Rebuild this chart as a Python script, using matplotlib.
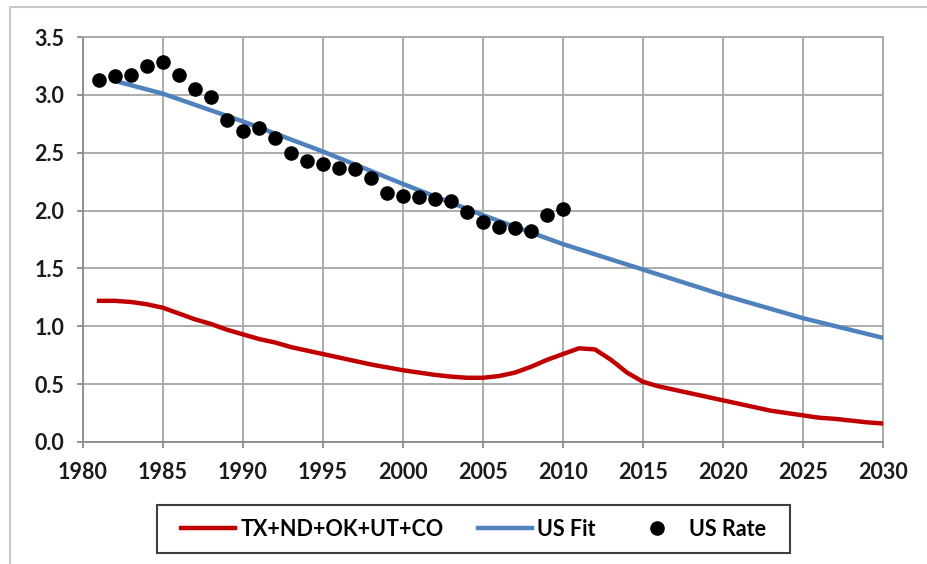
import matplotlib.pyplot as plt
from matplotlib.patches import Rectangle

plt.rcParams['font.family'] = ['Lato', 'DejaVu Sans']

# US rate (dots), 1981-2010
rate_years = list(range(1981, 2011))
us_rate = [3.13, 3.16, 3.17, 3.25, 3.28, 3.17, 3.05, 2.98, 2.78, 2.69,
           2.71, 2.63, 2.50, 2.43, 2.40, 2.37, 2.36, 2.28, 2.15, 2.13,
           2.12, 2.10, 2.08, 1.99, 1.90, 1.86, 1.85, 1.82, 1.96, 2.01]

# US fit curve
fit_years = [1982, 1985, 1990, 1995, 2000, 2005, 2010, 2015, 2020, 2025, 2030]
us_fit = [3.12, 3.01, 2.77, 2.51, 2.23, 1.96, 1.71, 1.49, 1.27, 1.07, 0.90]

# TX+ND+OK+UT+CO curve
st_years = list(range(1981, 2031))
states = [1.22, 1.22, 1.21, 1.19, 1.16, 1.11, 1.06, 1.02, 0.97, 0.93,
          0.89, 0.86, 0.82, 0.79, 0.76, 0.73, 0.70, 0.67, 0.645, 0.62,
          0.60, 0.58, 0.565, 0.555, 0.555, 0.57, 0.60, 0.65, 0.71, 0.76,
          0.81, 0.80, 0.71, 0.60, 0.52, 0.48, 0.45, 0.42, 0.39, 0.36,
          0.33, 0.30, 0.27, 0.25, 0.23, 0.21, 0.20, 0.185, 0.17, 0.16]

W, H = 927, 564
fig = plt.figure(figsize=(W / 100, H / 100), dpi=100)
ax = fig.add_axes([83 / W, 1 - 442 / H, 800 / W, 405 / H])

# 外框
fig.patches.append(Rectangle((10 / W, -0.1), 1.2, 1.1 - 7 / H,
                             transform=fig.transFigure, fill=False,
                             edgecolor='#c8c8c8', linewidth=1.5))

ax.plot(st_years, states, color='#c00000', linewidth=3.2, label='TX+ND+OK+UT+CO',
        solid_joinstyle='round', zorder=3)
ax.plot(fit_years, us_fit, color='#4f81bd', linewidth=3.2, label='US Fit',
        solid_joinstyle='round', zorder=3)
ax.plot(rate_years, us_rate, 'o', color='black', markersize=9.5, label='US Rate', zorder=4)

ax.set_xlim(1980, 2030)
ax.set_ylim(0, 3.5)
ax.set_xticks(range(1980, 2031, 5))
ax.set_yticks([0.0, 0.5, 1.0, 1.5, 2.0, 2.5, 3.0, 3.5])
ax.set_yticklabels(['0.0', '0.5', '1.0', '1.5', '2.0', '2.5', '3.0', '3.5'])

ax.grid(True, color='#a6a6a6', linewidth=1.3)
ax.set_axisbelow(True)
for s in ax.spines.values():
    s.set_color('#a6a6a6')
    s.set_linewidth(1.3)
ax.spines['bottom'].set_color('#8c8c8c')
ax.spines['left'].set_color('#8c8c8c')
ax.tick_params(axis='both', colors='#8c8c8c', labelcolor='#1a1a1a',
               labelsize=15.5, length=4.5, width=1.3, direction='out')
for lbl in ax.get_xticklabels() + ax.get_yticklabels():
    lbl.set_fontweight('bold')
ax.tick_params(axis='x', pad=10)
ax.tick_params(axis='y', pad=9)

leg = ax.legend(loc='center', bbox_to_anchor=(0.511, 1 - 529 / H),
                bbox_transform=fig.transFigure, ncol=3,
                prop={'size': 15.5, 'weight': 'bold'},
                frameon=False,
                handlelength=2.5, handletextpad=0.25, columnspacing=1.6,
                borderpad=0.5, borderaxespad=0)

# 图例框
fig.patches.append(Rectangle((157 / W, 1 - 553 / H), 633 / W, 48 / H,
                             transform=fig.transFigure, fill=False,
                             edgecolor='#404040', linewidth=1.5))

plt.savefig('out.png', dpi=100)
